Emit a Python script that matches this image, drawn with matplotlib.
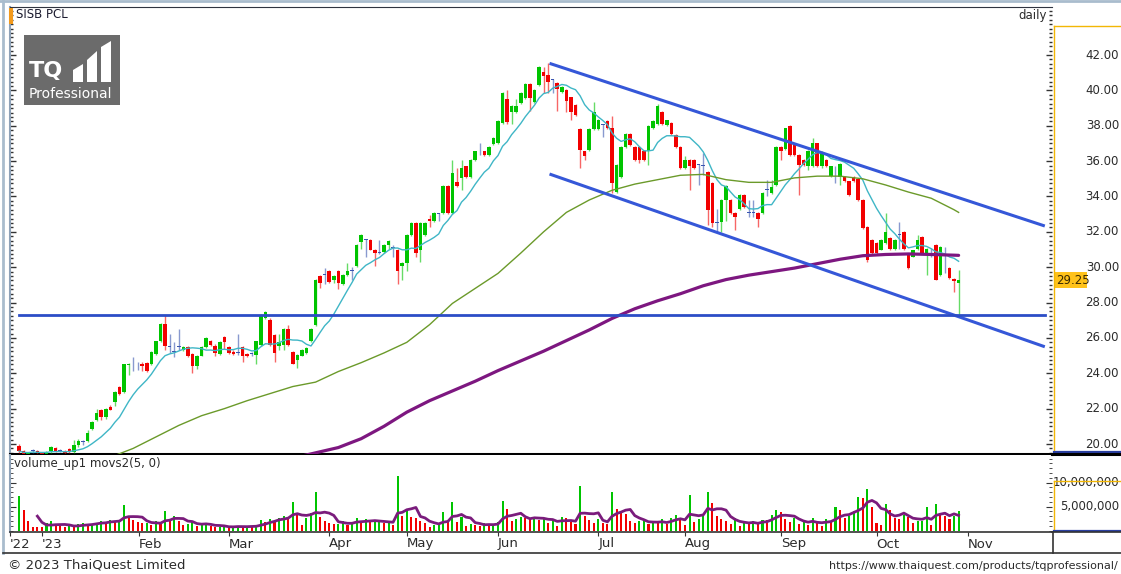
import numpy as np
import pandas as pd
import matplotlib
matplotlib.use("Agg")
import matplotlib.pyplot as plt
from matplotlib.patches import Rectangle, Polygon
from matplotlib.transforms import blended_transform_factory as blend

# ---- daily candles, SISB PCL (late Dec 2022 .. 27 Oct 2023) ----
open_ = [19.90, 19.60, 19.45, 19.62, 19.60, 19.50, 19.45, 19.60, 19.80, 19.60,
         19.60, 19.70, 19.55, 19.95, 20.10, 20.15, 20.85, 21.35, 21.95, 21.55,
         22.10, 22.35, 23.20, 22.95, 24.45, 24.50, 24.50, 24.55, 24.60, 24.50,
         25.10, 25.80, 26.80, 25.50, 25.20, 25.50, 25.30, 25.50, 25.10, 24.40,
         25.00, 25.50, 25.80, 25.55, 25.10, 26.05, 25.50, 25.20, 25.15, 25.50,
         25.10, 25.10, 25.05, 25.60, 27.10, 27.00, 26.15, 25.55, 25.60, 26.50,
         25.20, 24.75, 25.00, 25.15, 25.80, 26.75, 29.50, 29.55, 29.80, 29.30,
         29.80, 29.05, 29.55, 29.80, 30.05, 31.40, 31.55, 31.55, 31.00, 30.82,
         30.85, 31.25, 31.07, 31.00, 30.05, 30.25, 31.80, 32.50, 31.00, 31.80,
         32.75, 32.60, 33.00, 33.05, 34.60, 33.05, 34.80, 35.05, 35.70, 35.10,
         36.05, 36.55, 36.55, 36.35, 36.95, 37.00, 38.15, 39.50, 38.80, 38.80,
         39.30, 39.55, 40.35, 39.35, 40.30, 41.05, 40.85, 40.60, 40.40, 39.90,
         40.05, 39.60, 39.20, 37.80, 36.55, 36.65, 37.80, 37.80, 38.05, 38.25,
         37.85, 34.25, 35.10, 36.80, 37.55, 36.80, 36.80, 36.55, 36.60, 37.85,
         38.10, 38.80, 38.05, 38.15, 37.50, 36.80, 35.60, 36.05, 36.05, 35.80,
         35.75, 35.40, 34.75, 32.50, 32.55, 33.80, 33.80, 33.05, 33.30, 34.10,
         33.05, 33.05, 33.05, 33.05, 34.35, 34.20, 34.65, 36.80, 36.70, 38.00,
         37.00, 36.35, 36.05, 35.70, 35.70, 37.00, 35.70, 36.05, 35.15, 35.70,
         35.10, 35.10, 34.85, 35.10, 35.00, 33.80, 32.30, 31.55, 31.35, 31.00,
         31.35, 31.65, 31.05, 31.80, 32.00, 30.70, 30.60, 31.05, 31.70, 30.70,
         30.70, 31.25, 29.55, 30.95, 29.95, 29.35, 29.10]
high = [20.00, 19.65, 19.55, 19.70, 19.65, 19.55, 19.60, 19.90, 19.85, 19.70,
        19.65, 19.75, 20.20, 20.30, 20.20, 20.80, 21.30, 22.00, 22.00, 22.05,
        22.20, 23.00, 23.30, 24.55, 24.60, 24.90, 24.65, 24.65, 24.65, 25.25,
        25.85, 26.85, 27.30, 26.25, 25.75, 26.50, 25.55, 25.55, 25.15, 25.05,
        25.55, 26.05, 25.90, 25.65, 25.80, 26.10, 25.55, 25.30, 26.25, 25.55,
        25.15, 25.20, 25.85, 27.35, 27.55, 27.10, 26.20, 26.25, 26.55, 26.75,
        25.25, 25.10, 25.35, 25.50, 26.55, 29.35, 29.55, 29.95, 29.85, 29.55,
        29.85, 29.60, 30.25, 30.00, 31.30, 31.85, 31.60, 31.60, 31.05, 31.55,
        31.30, 31.55, 31.25, 31.05, 30.30, 31.85, 32.55, 32.55, 32.55, 32.55,
        32.95, 33.10, 33.05, 34.65, 34.65, 36.05, 35.60, 36.05, 35.75, 36.10,
        36.60, 37.00, 36.60, 36.85, 37.35, 38.30, 39.90, 40.05, 39.15, 39.50,
        39.90, 40.40, 40.40, 40.10, 41.40, 41.35, 41.55, 40.65, 40.50, 40.25,
        40.10, 39.65, 39.25, 37.85, 36.60, 37.85, 39.35, 38.40, 38.10, 38.30,
        38.55, 35.85, 36.85, 37.60, 37.60, 36.85, 36.85, 36.60, 38.05, 38.30,
        39.25, 38.85, 38.35, 38.20, 37.55, 36.85, 36.30, 36.10, 36.10, 35.85,
        36.45, 35.45, 34.80, 33.30, 33.85, 34.65, 33.85, 33.10, 34.15, 34.15,
        33.80, 33.80, 33.10, 34.25, 34.95, 34.95, 36.85, 36.85, 37.90, 38.05,
        37.05, 36.40, 36.10, 36.65, 37.30, 37.05, 36.55, 36.10, 35.75, 35.75,
        35.90, 35.15, 34.90, 35.15, 35.05, 33.85, 32.35, 31.60, 31.40, 31.60,
        33.05, 31.70, 31.60, 32.55, 32.05, 30.75, 31.00, 31.80, 31.75, 31.10,
        31.10, 31.30, 31.20, 31.15, 30.00, 29.40, 29.85]
low = [19.50, 19.40, 19.40, 19.50, 19.45, 19.40, 19.40, 19.50, 19.55, 19.55,
       19.45, 19.50, 19.50, 19.85, 19.95, 20.10, 20.80, 21.30, 21.35, 21.40,
       21.90, 22.15, 22.75, 22.90, 23.90, 24.15, 24.20, 24.15, 24.10, 24.45,
       25.05, 25.75, 25.30, 25.15, 24.90, 25.30, 25.25, 24.90, 24.00, 24.25,
       24.95, 25.45, 25.55, 25.00, 25.05, 25.40, 25.10, 25.05, 25.05, 24.65,
       24.90, 25.00, 24.55, 25.55, 27.05, 25.55, 24.65, 25.30, 25.30, 25.55,
       24.50, 24.30, 24.95, 25.10, 25.75, 26.70, 28.80, 29.05, 29.10, 29.10,
       28.75, 29.00, 29.50, 29.30, 30.00, 31.05, 30.60, 30.95, 30.05, 30.75,
       30.80, 31.05, 30.60, 29.05, 29.30, 29.80, 31.75, 30.60, 30.30, 31.75,
       32.30, 32.55, 32.60, 33.00, 33.00, 33.00, 34.55, 34.35, 35.05, 35.05,
       36.00, 36.35, 36.30, 36.30, 36.90, 36.95, 38.10, 38.10, 38.10, 38.75,
       39.25, 39.50, 38.85, 39.30, 40.25, 39.85, 39.85, 39.85, 38.85, 39.85,
       38.80, 38.35, 38.55, 35.60, 36.05, 36.60, 37.75, 37.75, 37.35, 37.80,
       34.20, 34.20, 35.05, 36.75, 36.85, 36.00, 35.90, 36.00, 35.80, 37.80,
       38.05, 38.05, 38.00, 37.50, 36.75, 35.55, 35.55, 34.35, 35.55, 34.65,
       35.20, 32.40, 32.30, 32.00, 32.00, 32.60, 33.00, 32.10, 33.25, 33.35,
       32.85, 32.85, 32.30, 33.00, 34.00, 34.15, 34.60, 36.05, 36.65, 36.30,
       36.30, 34.10, 35.75, 35.50, 35.65, 35.65, 35.60, 35.65, 35.10, 34.75,
       34.65, 34.80, 34.05, 34.80, 33.75, 32.15, 30.30, 30.75, 30.75, 30.95,
       31.30, 31.00, 31.00, 31.05, 31.00, 29.90, 30.55, 31.00, 30.75, 29.55,
       30.60, 29.25, 29.50, 29.65, 29.35, 28.60, 27.30]
close = [19.60, 19.45, 19.50, 19.62, 19.50, 19.45, 19.55, 19.85, 19.60, 19.60,
         19.50, 19.55, 19.95, 20.15, 20.10, 20.65, 21.25, 21.75, 21.55, 22.00,
         21.95, 22.95, 22.80, 24.50, 24.55, 24.50, 24.50, 24.40, 24.15, 25.20,
         25.80, 26.80, 25.55, 25.50, 25.20, 25.50, 25.50, 24.95, 24.40, 25.00,
         25.50, 26.00, 25.60, 25.15, 25.75, 25.75, 25.15, 25.10, 25.15, 24.95,
         24.95, 25.10, 25.80, 27.30, 27.45, 25.60, 25.15, 25.75, 26.50, 25.60,
         24.55, 25.05, 25.30, 25.45, 26.50, 29.30, 29.10, 29.55, 29.15, 29.50,
         29.10, 29.55, 29.80, 29.80, 31.25, 31.80, 31.55, 31.00, 30.80, 30.82,
         31.25, 31.50, 31.07, 29.80, 30.25, 31.80, 32.50, 30.80, 32.50, 32.50,
         32.60, 33.05, 33.00, 34.60, 33.05, 35.30, 34.60, 35.60, 35.10, 36.05,
         36.55, 36.55, 36.35, 36.80, 37.30, 38.25, 39.85, 38.20, 39.10, 39.10,
         39.85, 40.35, 39.55, 40.05, 41.35, 40.80, 40.50, 40.60, 40.10, 40.20,
         39.40, 38.80, 38.60, 36.65, 36.30, 37.80, 38.80, 38.35, 38.05, 37.85,
         34.75, 35.80, 36.80, 37.55, 36.90, 36.05, 36.05, 36.05, 38.00, 38.25,
         39.10, 38.10, 38.30, 37.55, 36.80, 35.60, 36.05, 35.70, 35.60, 35.80,
         35.75, 33.25, 32.50, 32.50, 33.80, 34.60, 33.05, 32.85, 34.10, 33.40,
         33.05, 33.05, 32.75, 34.20, 34.35, 34.55, 36.80, 36.60, 37.85, 36.35,
         36.35, 35.80, 35.80, 36.60, 37.00, 35.70, 36.50, 35.70, 35.70, 35.70,
         35.85, 34.85, 34.10, 34.85, 33.80, 32.20, 30.40, 30.80, 30.80, 31.55,
         32.00, 31.05, 31.55, 31.80, 31.05, 29.95, 30.95, 31.55, 30.80, 31.05,
         30.70, 29.30, 31.15, 30.95, 29.40, 29.20, 29.25]
# volume in millions of shares
volume = [7.1, 4.3, 2.0, 0.8, 0.75, 0.7, 1.5, 1.9, 1.2, 0.9,
          0.8, 1.0, 0.8, 1.3, 1.5, 1.2, 1.4, 1.6, 2.0, 1.8,
          2.1, 1.9, 2.0, 5.4, 3.0, 2.2, 1.8, 1.5, 1.6, 1.2,
          1.9, 1.4, 4.0, 2.2, 3.1, 1.9, 1.2, 1.4, 1.7, 1.0,
          1.3, 1.5, 0.9, 0.7, 0.8, 0.9, 0.6, 0.8, 1.0, 0.7,
          0.9, 0.8, 1.0, 2.2, 1.8, 2.5, 2.0, 2.6, 3.0, 2.8,
          5.9, 3.2, 1.2, 2.6, 3.7, 8.0, 2.8, 2.0, 1.6, 1.3,
          1.4, 2.0, 1.2, 1.6, 2.6, 1.8, 2.3, 1.7, 1.9, 2.2,
          1.5, 1.8, 1.2, 11.4, 3.0, 4.2, 2.8, 2.6, 2.0, 1.5,
          0.8, 1.2, 1.4, 3.8, 2.2, 6.0, 1.8, 2.9, 1.0, 1.4,
          1.1, 0.9, 1.6, 1.2, 1.3, 1.7, 6.25, 4.4, 2.0, 2.4,
          2.9, 2.6, 2.4, 2.9, 2.2, 2.6, 1.6, 2.1, 1.0, 2.8,
          2.7, 1.8, 1.4, 9.2, 3.0, 2.2, 1.6, 2.4, 1.5, 1.3,
          8.0, 4.4, 4.0, 3.5, 2.0, 1.6, 1.9, 2.2, 1.4, 1.7,
          1.5, 2.3, 1.4, 2.6, 3.3, 2.6, 1.2, 7.3, 1.8, 2.5,
          3.4, 8.0, 5.7, 3.0, 2.5, 2.0, 1.4, 2.6, 1.0, 1.6,
          1.3, 1.9, 1.7, 2.2, 2.1, 3.2, 4.3, 3.9, 2.4, 1.7,
          2.6, 1.4, 1.8, 1.2, 2.6, 1.5, 1.0, 2.4, 1.8, 4.9,
          4.3, 2.6, 3.0, 4.0, 7.0, 6.8, 8.7, 4.8, 1.5, 1.2,
          5.6, 4.2, 2.6, 2.4, 3.3, 2.9, 1.6, 1.9, 2.0, 5.0,
          1.2, 5.6, 3.2, 3.0, 2.4, 3.1, 4.0]

# longer moving averages (session index, value)
ma_mid_at = [20, 25, 30, 35, 40, 45, 50, 55, 60, 65, 70, 75, 80, 85, 90, 95, 100,
             105, 110, 115, 120, 125, 130, 135, 140, 145, 150, 155, 160, 165, 170,
             175, 180, 185, 190, 195, 200, 205, 206]
ma_mid = [19.25, 19.75, 20.4, 21.05, 21.6, 22.0, 22.45, 22.85, 23.25, 23.5, 24.1,
          24.6, 25.15, 25.75, 26.75, 27.95, 28.8, 29.65, 30.8, 32.0, 33.1, 33.8,
          34.35, 34.7, 34.95, 35.2, 35.25, 34.95, 34.8, 34.8, 35.05, 35.15, 35.15,
          35.0, 34.65, 34.25, 33.9, 33.25, 33.1]
ma_long_at = [60, 65, 70, 75, 80, 85, 90, 95, 100, 105, 110, 115, 120, 125, 130,
              135, 140, 145, 150, 155, 160, 165, 170, 175, 180, 185, 190, 195, 200,
              205, 206]
ma_long = [19.2, 19.5, 19.8, 20.3, 21.0, 21.8, 22.45, 23.0, 23.55, 24.15, 24.7,
           25.25, 25.85, 26.45, 27.1, 27.65, 28.1, 28.5, 28.95, 29.3, 29.55, 29.75,
           29.95, 30.2, 30.45, 30.65, 30.72, 30.75, 30.72, 30.68, 30.67]

# drawn trend lines (session index, price)
channel_top = [(116.3, 41.53), (224.9, 32.33)]
channel_bottom = [(116.3, 35.27), (224.9, 25.50)]
support_level = 27.30
support_span = (0, 224.9)

month_labels = ["'22", "'23", "Feb", "Mar", "Apr", "May", "Jun", "Jul", "Aug", "Sep", "Oct", "Nov"]
month_at = [-2.0, 5.0, 26.3, 46.0, 68.0, 85.0, 105.0, 127.0, 146.0, 167.0, 188.0, 208.0]
price_ticks = [20, 22, 24, 26, 28, 30, 32, 34, 36, 38, 40, 42]
vol_ticks = [5, 10]
vol_tick_labels = ["5,000,000", "10,000,000"]

# ---------------------------------------------------------------
W, H = 1121, 574
fig = plt.figure(figsize=(W / 100, H / 100), dpi=100)
fig.patch.set_facecolor("white")


def box(x0, y0, x1, y1):
    return [x0 / W, 1 - y1 / H, (x1 - x0) / W, (y1 - y0) / H]


def fx(px):
    return px / W


def fy(py):
    return 1 - py / H


GREEN, RED, BLUE = "#00c400", "#f20000", "#3a55b0"
TXT = "#2b2b2b"

ax = fig.add_axes(box(10, 7, 1052, 454))
axv = fig.add_axes(box(10, 455, 1052, 532), sharex=ax)

n = len(close)
idx = np.arange(n)
o = np.array(open_)
c = np.array(close)
col = np.where(c > o, GREEN, np.where(c < o, RED, BLUE))

ax.vlines(idx, low, high, colors=col, lw=1.0, alpha=0.6, zorder=3)
body = np.maximum(np.abs(c - o), 0.05)
ax.bar(idx, body, bottom=np.minimum(o, c), width=0.78, color=col, lw=0, zorder=4)

ma10 = pd.Series(close).rolling(10, min_periods=1).mean()
ax.plot(idx, ma10, color="#3fb6c6", lw=1.0, zorder=5)
ax.plot(ma_mid_at, ma_mid, color="#6b9a2a", lw=1.0, zorder=5)
ax.plot(ma_long_at, ma_long, color="#7d1780", lw=2.3, zorder=5, solid_capstyle="round")

for seg in (channel_top, channel_bottom):
    xs, ys = zip(*seg)
    ax.plot(xs, ys, color="#3557d8", lw=2.2, zorder=6, solid_capstyle="butt")
ax.plot(support_span, [support_level, support_level], color="#2c4dc6", lw=2.0, zorder=6)

ax.set_xlim((10 - 17) / 4.57, (1052 - 17) / 4.57)
ax.set_ylim(20 + (444 - 454) / 17.68, 20 + (444 - 7) / 17.68)
ax.set_yticks(price_ticks)
ax.set_yticks(np.arange(19.5, 44.6, 0.25), minor=True)
ax.tick_params(axis="y", which="both", left=True, right=True, labelleft=False,
               labelright=False, direction="in", color="#333333")
ax.tick_params(axis="y", which="major", length=4, width=1)
ax.tick_params(axis="y", which="minor", length=2, width=1)
ax.tick_params(axis="x", which="both", bottom=False, labelbottom=False)
ax.spines["right"].set_visible(False)
ax.spines["left"].set_color("#8ea2b8")
ax.spines["left"].set_linewidth(1.5)
ax.spines["top"].set_color("#2f3440")
ax.spines["bottom"].set_color("black")
ax.spines["bottom"].set_linewidth(2.2)

# volume panel
vol = np.array(volume)
vcol = [GREEN] + [GREEN if vol[i] >= vol[i - 1] else RED for i in range(1, n)]
axv.bar(idx, vol, width=0.45, color=vcol, lw=0, zorder=3)
vma = pd.Series(volume).rolling(5, min_periods=5).mean()
axv.plot(idx, vma, color="#7a1c7c", lw=2.0, zorder=4)
axv.set_ylim(-1.5 / 4.8, 75.5 / 4.8)
axv.set_yticks(vol_ticks)
axv.set_yticks(np.arange(0, 15.1, 1.0), minor=True)
axv.tick_params(axis="y", which="both", left=True, right=True, labelleft=False,
                labelright=False, direction="in", color="#333333")
axv.tick_params(axis="y", which="major", length=4)
axv.tick_params(axis="y", which="minor", length=2)
axv.set_xticks(month_at)
axv.tick_params(axis="x", which="both", bottom=True, labelbottom=False, direction="out",
                length=3, color="#333333")
axv.spines["top"].set_visible(False)
axv.spines["right"].set_visible(False)
axv.spines["left"].set_color("#8ea2b8")
axv.spines["left"].set_linewidth(1.5)
axv.spines["bottom"].set_color("#333333")
axv.spines["bottom"].set_linewidth(1.2)

# right-hand scales
tr_p = blend(fig.transFigure, ax.transData)
for v in price_ticks:
    ax.text(fx(1119), v, f"{v:.2f}", transform=tr_p, ha="right", va="center",
            fontsize=8.5, color=TXT, clip_on=False)
last = close[-1]
ax.add_patch(Rectangle((fx(1054), last - 8 / 17.68), fx(1087) - fx(1054), 16 / 17.68,
                       transform=tr_p, facecolor="#ffc21a", edgecolor="none", clip_on=False, zorder=7))
ax.text(fx(1056), last, f"{last:.2f}", transform=tr_p, ha="left", va="center",
        fontsize=8.5, color="#3a2a00", clip_on=False, zorder=8)

tr_v = blend(fig.transFigure, axv.transData)
for v, lab in zip(vol_ticks, vol_tick_labels):
    axv.text(fx(1119), v, lab, transform=tr_v, ha="right", va="center",
             fontsize=8.5, color=TXT, clip_on=False)


# frame lines
def fline(x0, y0, x1, y1, color, lw):
    fig.add_artist(plt.Line2D([fx(x0), fx(x1)], [fy(y0), fy(y1)], color=color, lw=lw,
                              transform=fig.transFigure))


fline(0, 1, W, 1, "#a9bccd", 2.0)
fline(3, 1, 3, 553, "#a9bccd", 2.0)
fline(1054, 26, W, 26, "#f2b705", 1.0)
fline(1054, 26, 1054, 452, "#f2b705", 1.0)
fline(1054, 452, W, 452, "#2a3fa0", 1.6)
fline(1052, 454, W, 454, "black", 2.2)
fline(1054, 481, W, 481, "#f2b705", 1.0)
fline(1054, 481, 1054, 531, "#f2b705", 1.0)
fline(1054, 531, W, 531, "#2a3fa0", 1.6)
fline(1052, 532, W, 532, "#333333", 1.2)
fline(3, 553, W, 553, "#333333", 1.2)
fline(1053, 532, 1053, 553, "#333333", 1.2)

# date strip labels
tr_d = blend(ax.transData, fig.transFigure)
for lab, at in zip(month_labels, month_at):
    fig.text(at, fy(544), lab, transform=tr_d, ha="left", va="center", fontsize=9.5, color=TXT)

# titles and footer
fig.add_artist(Rectangle((fx(9), fy(24)), fx(4), fy(8) - fy(24), transform=fig.transFigure,
                         facecolor="#f39a1c", edgecolor="none"))
fig.text(fx(16), fy(15), "SISB PCL", ha="left", va="center", fontsize=8.5, color="#1c1c30")
fig.text(fx(1047), fy(16), "daily", ha="right", va="center", fontsize=8.5, color=TXT)
fig.text(fx(14), fy(464), "volume_up1 movs2(5, 0)", ha="left", va="center", fontsize=8.5, color=TXT)
fig.text(fx(8), fy(565), "\u00a9 2023 ThaiQuest Limited", ha="left", va="center", fontsize=9.5, color=TXT)
fig.text(fx(1118), fy(566), "https://www.thaiquest.com/products/tqprofessional/", ha="right",
         va="center", fontsize=8, color=TXT)

# TQ Professional badge
fig.add_artist(Rectangle((fx(24), fy(105)), fx(96), fy(35) - fy(105), transform=fig.transFigure,
                         facecolor="#6b6b6b", edgecolor="none"))
fig.text(fx(29), fy(71), "TQ", ha="left", va="center", fontsize=16, fontweight="bold", color="white")
for xa, xb, ya, yb in [(73, 83, 70, 64), (87, 97, 60, 51), (101, 111, 47, 41)]:
    fig.add_artist(Polygon([(fx(xa), fy(82)), (fx(xb), fy(82)), (fx(xb), fy(yb)), (fx(xa), fy(ya))],
                           closed=True, transform=fig.transFigure, facecolor="white", edgecolor="none"))
fig.text(fx(29), fy(94), "Professional", ha="left", va="center", fontsize=10, color="white")

fig.savefig("out.png", dpi=100)
